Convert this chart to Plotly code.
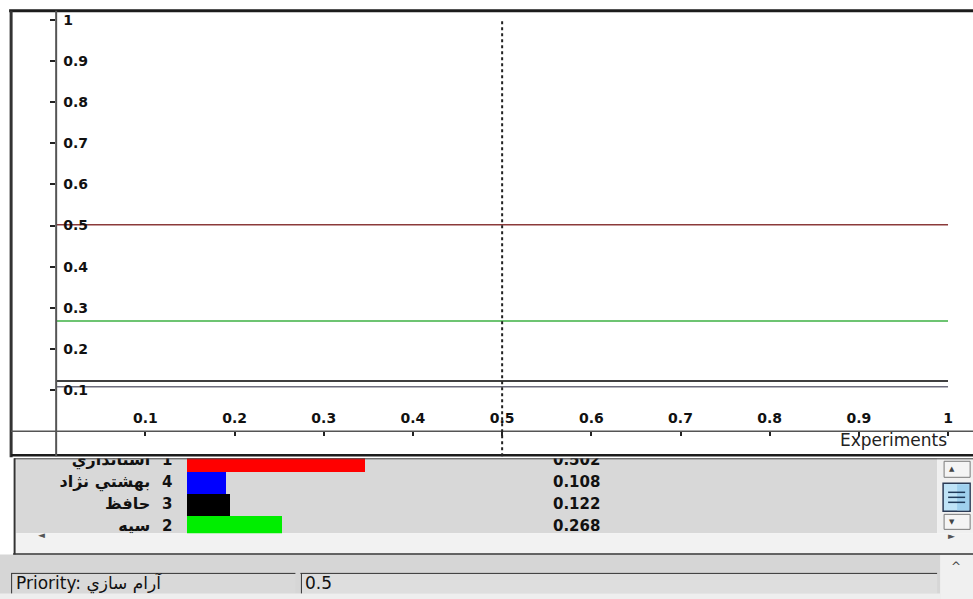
import plotly.graph_objects as go

# ---------------- data ----------------
alternatives = ["استانداري", "بهشتي نژاد", "حافظ", "سپه"]
ranks = ["1", "4", "3", "2"]
priorities = [0.502, 0.108, 0.122, 0.268]
value_labels = ["0.502", "0.108", "0.122", "0.268"]
series_colors = ["#ff0000", "#0000ff", "#000000", "#00ee00"]
line_colors = ["#8b3a3a", "#6c6c7c", "#000000", "#3cb043"]
experiment_range = [0, 1]
current_priority = 0.5
tick_vals = [0.1, 0.2, 0.3, 0.4, 0.5, 0.6, 0.7, 0.8, 0.9, 1]
tick_text = ["0.1", "0.2", "0.3", "0.4", "0.5", "0.6", "0.7", "0.8", "0.9", "1"]
x_title = "Experiments"
priority_label = "Priority: آرام سازي"
priority_value = "0.5"

W, H = 973, 599
FONT = "DejaVu Sans"

# calibration of the photographed page (screen px -> figure px)
CAL_AX, CAL_KX = 0.9, 0.9938
CAL_AY, CAL_KY = 7.14, 0.9857


def px(x):
    return ((x - CAL_AX) / CAL_KX) / W


def py(y):
    return 1 - ((y - CAL_AY) / CAL_KY) / H


fig = go.Figure()

# sensitivity lines
for name, v, c in zip(alternatives, priorities, line_colors):
    fig.add_trace(go.Scatter(
        x=experiment_range, y=[v, v], mode="lines",
        line=dict(color=c, width=1.5), name=name, showlegend=False,
        xaxis="x", yaxis="y", hoverinfo="skip"))

# bottom table bars
rows = list(range(len(alternatives)))
fig.add_trace(go.Bar(
    x=priorities, y=rows, orientation="h", width=0.97,
    marker=dict(color=series_colors, line=dict(width=0)),
    xaxis="x2", yaxis="y2", showlegend=False, hoverinfo="skip"))

# table texts (clipped by the table viewport)
bar_left, bar_scale = 188, 354.6          # screen px at value 0, px per unit
tab_left, tab_right = 17, 935
row_top, row_h, tab_top, tab_bot = 460, 22, 457, 532


def v2(pxpos):
    return (pxpos - bar_left) / bar_scale


name_font = dict(family=FONT, size=16, color="#111111", weight="bold")
num_font = dict(family=FONT, size=15, color="#111111", weight="bold")
fig.add_trace(go.Scatter(
    x=[v2(151)] * len(rows), y=rows, mode="text", text=alternatives,
    textposition="middle left", textfont=name_font, cliponaxis=True,
    xaxis="x2", yaxis="y2", showlegend=False, hoverinfo="skip"))
fig.add_trace(go.Scatter(
    x=[v2(168)] * len(rows), y=rows, mode="text", text=ranks,
    textposition="middle center", textfont=num_font, cliponaxis=True,
    xaxis="x2", yaxis="y2", showlegend=False, hoverinfo="skip"))
fig.add_trace(go.Scatter(
    x=[v2(577)] * len(rows), y=rows, mode="text", text=value_labels,
    textposition="middle center", textfont=num_font, cliponaxis=True,
    xaxis="x2", yaxis="y2", showlegend=False, hoverinfo="skip"))

shapes = []


def rect(x0, y0, x1, y1, fill, line=None, lw=0, layer="below"):
    shapes.append(dict(type="rect", xref="paper", yref="paper",
                       x0=px(x0), x1=px(x1), y0=py(y1), y1=py(y0),
                       fillcolor=fill, layer=layer,
                       line=dict(color=line or fill, width=lw)))


def hline(x0, x1, y, color, w, layer="above"):
    shapes.append(dict(type="line", xref="paper", yref="paper",
                       x0=px(x0), x1=px(x1), y0=py(y), y1=py(y),
                       line=dict(color=color, width=w), layer=layer))


def vline(x, y0, y1, color, w, layer="above"):
    shapes.append(dict(type="line", xref="paper", yref="paper",
                       x0=px(x), x1=px(x), y0=py(y0), y1=py(y1),
                       line=dict(color=color, width=w), layer=layer))


# table backgrounds
rect(17, 457, 937, 532, "#d8d8d8")
rect(937, 457, 980, 532, "#f0f0f0")
rect(17, 532, 980, 552, "#f2f2f2")
rect(-5, 553, 980, 605, "#d6d6d6")
rect(940, 553, 980, 605, "#f0f0f0")
rect(12, 572, 296, 592, "#d9d9d9")
rect(301, 572, 937, 592, "#dedede")
rect(-5, 592, 940, 605, "#eeeeee")

# chart frame
hline(10, 980, 10, "#1c1c1c", 3)
vline(12, 10, 456, "#333333", 3)
hline(12, 980, 454, "#1c1c1c", 2.5)
hline(15, 980, 457.5, "#444444", 1)
vline(15.5, 457, 553, "#333333", 2)
hline(14, 980, 552.5, "#333333", 1.5)
# axis lines
vline(57, 10, 455, "#555555", 2)
hline(12, 980, 430, "#555555", 1.5)
# input boxes borders
hline(12, 296, 572, "#333333", 1)
vline(12.5, 572, 592, "#333333", 1)
hline(301, 937, 572, "#333333", 1)
vline(302, 572, 592, "#333333", 1)

# vertical scrollbar
rect(944, 460, 970, 476, "#f4f4f4", "#7a7a7a", 1, layer="above")
rect(943, 482, 970, 510, "#bfe3f7", "#2b3a55", 1.5, layer="above")
rect(957, 483, 969, 509, "#9fd0ee", layer="above")
for yy in (491, 496, 501):
    hline(948, 965, yy, "#1f3a5a", 1.5)
rect(944, 513, 970, 528, "#f4f4f4", "#7a7a7a", 1, layer="above")

# current priority marker (dotted)
shapes.append(dict(type="line", xref="x", yref="paper",
                   x0=current_priority, x1=current_priority,
                   y0=py(455), y1=py(20),
                   line=dict(color="#222222", width=2, dash="dot"),
                   layer="above"))

annotations = [
    dict(text=x_title, xref="paper", yref="paper", x=px(949), y=py(439),
         xanchor="right", yanchor="middle", showarrow=False,
         font=dict(family=FONT, size=17, color="#222222")),
    dict(text="◄", xref="paper", yref="paper", x=px(37), y=py(541),
         showarrow=False, font=dict(family=FONT, size=9, color="#555555")),
    dict(text="►", xref="paper", yref="paper", x=px(957), y=py(542),
         showarrow=False, font=dict(family=FONT, size=9, color="#555555")),
    dict(text="▲", xref="paper", yref="paper", x=px(957), y=py(468),
         yanchor="middle", showarrow=False,
         font=dict(family=FONT, size=7, color="#444444")),
    dict(text="▼", xref="paper", yref="paper", x=px(957), y=py(520.5),
         yanchor="middle", showarrow=False,
         font=dict(family=FONT, size=7, color="#444444")),
    dict(text="^", xref="paper", yref="paper", x=px(963), y=py(566),
         yanchor="middle", showarrow=False,
         font=dict(family=FONT, size=12, color="#444444")),
    dict(text=priority_label, xref="paper", yref="paper", x=px(15), y=py(582),
         xanchor="left", yanchor="middle", showarrow=False,
         font=dict(family=FONT, size=17, color="#111111")),
    dict(text=priority_value, xref="paper", yref="paper", x=px(304), y=py(582),
         xanchor="left", yanchor="middle", showarrow=False,
         font=dict(family=FONT, size=17, color="#111111")),
]

axis_font = dict(family=FONT, size=14, color="#111111", weight="bold")
fig.update_layout(
    width=W, height=H, margin=dict(l=0, r=0, t=0, b=0),
    paper_bgcolor="#ffffff", plot_bgcolor="rgba(0,0,0,0)",
    showlegend=False, bargap=0,
    xaxis=dict(domain=[px(57), px(948)], range=[0, 1], anchor="y",
               tickvals=tick_vals, ticktext=tick_text, ticks="outside",
               ticklen=4, tickwidth=2, tickcolor="#222222",
               ticklabelposition="inside", ticklabeloverflow="allow",
               ticklabelstandoff=2,
               tickfont=axis_font, showgrid=False, zeroline=False,
               showline=False, fixedrange=True),
    yaxis=dict(domain=[py(430), py(19)], range=[0, 1], anchor="x",
               tickvals=tick_vals, ticktext=tick_text, ticks="outside",
               ticklen=5, tickwidth=1.5, tickcolor="#222222",
               ticklabelposition="inside", ticklabeloverflow="allow",
               ticklabelstandoff=4,
               tickfont=axis_font, showgrid=False, zeroline=False,
               showline=False, fixedrange=True),
    xaxis2=dict(domain=[px(tab_left), px(tab_right)],
                range=[v2(tab_left), v2(tab_right)], anchor="y2",
                visible=False, fixedrange=True),
    yaxis2=dict(domain=[py(tab_bot), py(tab_top)],
                range=[(tab_bot - row_top) / row_h, (tab_top - row_top) / row_h],
                anchor="x2", visible=False, fixedrange=True),
    shapes=shapes, annotations=annotations,
)

page_css = (
    "document.documentElement.style.margin='0';"
    "document.body.style.margin='0';"
    "document.body.style.overflow='hidden';"
)

fig.write_html("out.html", config={"displayModeBar": False},
               post_script=page_css)
